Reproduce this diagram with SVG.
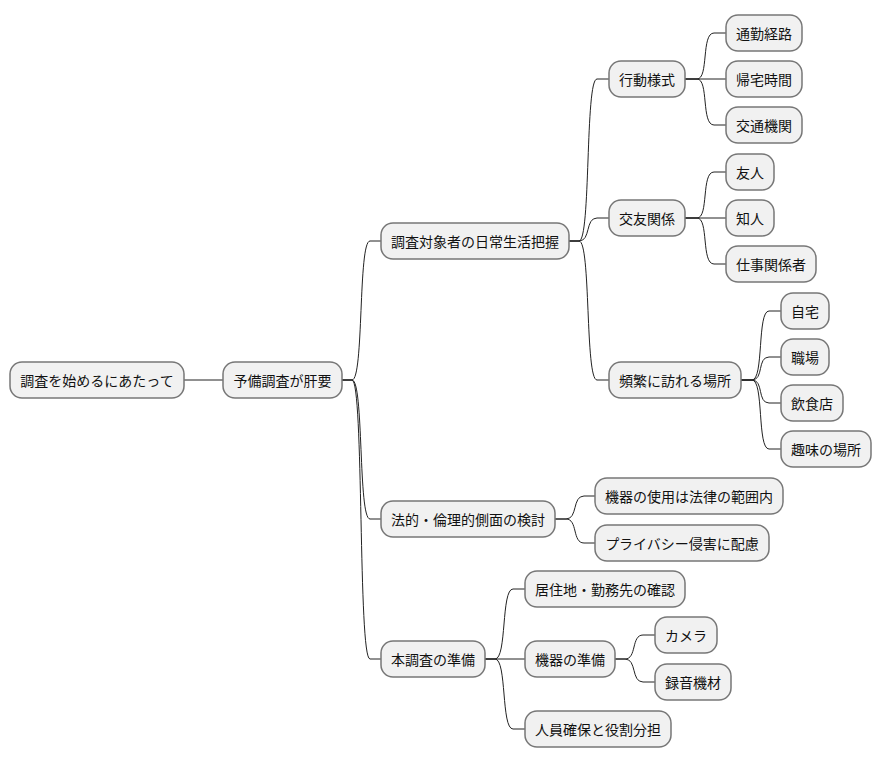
<svg xmlns="http://www.w3.org/2000/svg" width="882" height="761" viewBox="0 0 882 761">
<style>
rect{fill:#F1F1F1;stroke:#777;stroke-width:1.5}
text{font-family:"Noto Sans CJK JP","Noto Sans",sans-serif;font-size:14px;fill:#111;text-anchor:middle;dominant-baseline:central}
#connectors path{fill:none;stroke:#222;stroke-width:1}
</style>
<rect x="0" y="0" width="882" height="761" style="fill:#fff;stroke:none"/>
<g id="connectors">
<path d="M184 380 L223 380"/>
<path d="M342 380 L352 380 C364 380 358 241 370 241 L381 241"/>
<path d="M342 380 L352 380 C364 380 358 519 370 519 L381 519"/>
<path d="M342 380 L352 380 C364 380 358 659 370 659 L381 659"/>
<path d="M569 241 L579 241 C591 241 585 79 597 79 L609 79"/>
<path d="M569 241 L579 241 C591 241 585 218 597 218 L609 218"/>
<path d="M569 241 L579 241 C591 241 585 380 597 380 L609 380"/>
<path d="M685 79 L697 79 C709 79 701 33 714 33 L726 33"/>
<path d="M685 79 L726 79"/>
<path d="M685 79 L697 79 C709 79 701 125 714 125 L726 125"/>
<path d="M685 218 L697 218 C709 218 701 172 714 172 L726 172"/>
<path d="M685 218 L726 218"/>
<path d="M685 218 L697 218 C709 218 701 264 714 264 L726 264"/>
<path d="M741 380 L752 380 C764 380 757 311 769 311 L781 311"/>
<path d="M741 380 L752 380 C764 380 757 357 769 357 L781 357"/>
<path d="M741 380 L752 380 C764 380 757 403 769 403 L781 403"/>
<path d="M741 380 L752 380 C764 380 757 449 769 449 L781 449"/>
<path d="M555 519 L566 519 C578 519 572 496 584 496 L595 496"/>
<path d="M555 519 L566 519 C578 519 572 543 584 543 L595 543"/>
<path d="M485 659 L495 659 C507 659 501 589 513 589 L525 589"/>
<path d="M485 659 L525 659"/>
<path d="M485 659 L495 659 C507 659 501 729 513 729 L525 729"/>
<path d="M615 659 L625 659 C637 659 631 635 643 635 L655 635"/>
<path d="M615 659 L625 659 C637 659 631 682 643 682 L655 682"/>
</g>
<g id="n0"><rect x="10" y="362" width="174" height="36" rx="12"/><text x="97" y="380">調査を始めるにあたって</text></g>
<g id="n1"><rect x="223" y="362" width="119" height="36" rx="12"/><text x="282.5" y="380">予備調査が肝要</text></g>
<g id="n2"><rect x="381" y="223" width="188" height="36" rx="12"/><text x="475" y="241">調査対象者の日常生活把握</text></g>
<g id="n3"><rect x="381" y="501" width="174" height="36" rx="12"/><text x="468" y="519">法的・倫理的側面の検討</text></g>
<g id="n4"><rect x="381" y="641" width="104" height="36" rx="12"/><text x="433" y="659">本調査の準備</text></g>
<g id="n5"><rect x="609" y="61" width="76" height="36" rx="12"/><text x="647" y="79">行動様式</text></g>
<g id="n6"><rect x="609" y="200" width="76" height="36" rx="12"/><text x="647" y="218">交友関係</text></g>
<g id="n7"><rect x="609" y="362" width="132" height="36" rx="12"/><text x="675" y="380">頻繁に訪れる場所</text></g>
<g id="n8"><rect x="726" y="15" width="76" height="36" rx="12"/><text x="764" y="33">通勤経路</text></g>
<g id="n9"><rect x="726" y="61" width="76" height="36" rx="12"/><text x="764" y="79">帰宅時間</text></g>
<g id="n10"><rect x="726" y="107" width="76" height="36" rx="12"/><text x="764" y="125">交通機関</text></g>
<g id="n11"><rect x="726" y="154" width="48" height="36" rx="12"/><text x="750" y="172">友人</text></g>
<g id="n12"><rect x="726" y="200" width="48" height="36" rx="12"/><text x="750" y="218">知人</text></g>
<g id="n13"><rect x="726" y="246" width="90" height="36" rx="12"/><text x="771" y="264">仕事関係者</text></g>
<g id="n14"><rect x="781" y="293" width="48" height="36" rx="12"/><text x="805" y="311">自宅</text></g>
<g id="n15"><rect x="781" y="339" width="48" height="36" rx="12"/><text x="805" y="357">職場</text></g>
<g id="n16"><rect x="781" y="385" width="62" height="36" rx="12"/><text x="812" y="403">飲食店</text></g>
<g id="n17"><rect x="781" y="431" width="90" height="36" rx="12"/><text x="826" y="449">趣味の場所</text></g>
<g id="n18"><rect x="595" y="478" width="188" height="36" rx="12"/><text x="689" y="496">機器の使用は法律の範囲内</text></g>
<g id="n19"><rect x="595" y="525" width="174" height="36" rx="12"/><text x="682" y="543">プライバシー侵害に配慮</text></g>
<g id="n20"><rect x="525" y="571" width="160" height="36" rx="12"/><text x="605" y="589">居住地・勤務先の確認</text></g>
<g id="n21"><rect x="525" y="641" width="90" height="36" rx="12"/><text x="570" y="659">機器の準備</text></g>
<g id="n22"><rect x="525" y="711" width="146" height="36" rx="12"/><text x="598" y="729">人員確保と役割分担</text></g>
<g id="n23"><rect x="655" y="617" width="62" height="36" rx="12"/><text x="686" y="635">カメラ</text></g>
<g id="n24"><rect x="655" y="664" width="76" height="36" rx="12"/><text x="693" y="682">録音機材</text></g>
</svg>
